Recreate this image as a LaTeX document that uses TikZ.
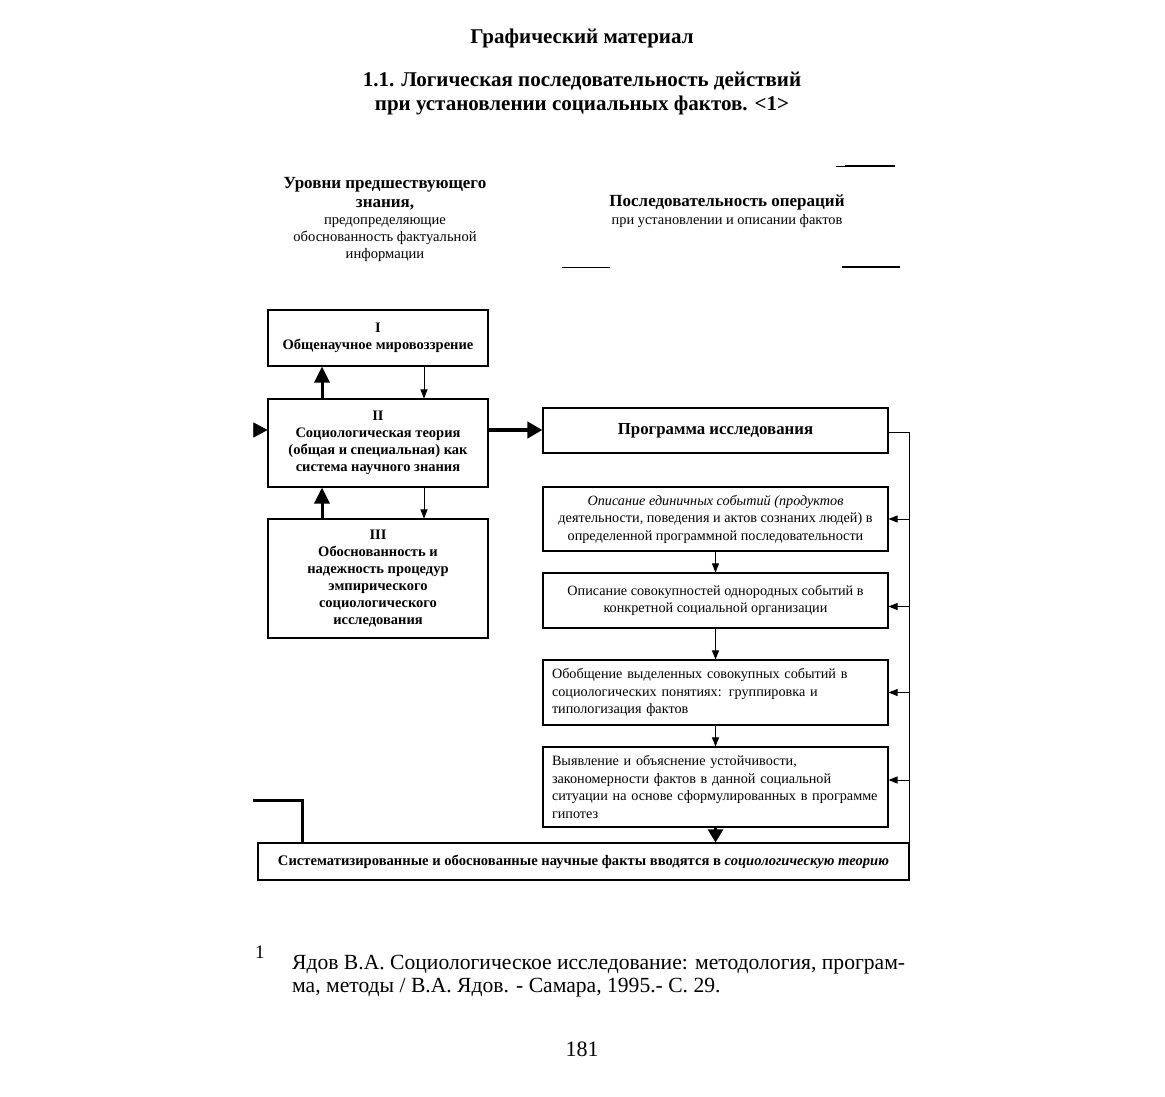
\documentclass[tikz,border=0pt]{standalone}
\usepackage{fontspec}
\setmainfont{Liberation Serif}
\usetikzlibrary{arrows.meta}
\begin{document}
\begin{tikzpicture}[x=1pt,y=-1pt,
  box/.style={draw,line width=1.1pt,inner sep=0pt,align=center},
  boxtxt/.style={font=\fontsize{14.5}{17}\selectfont\bfseries},
  optxt/.style={font=\fontsize{14.2}{17.5}\selectfont},
  thin/.style={line width=0.9pt,-{Triangle[length=9pt,width=7pt]}},
  thick/.style={line width=3pt,-{Triangle[length=16pt,width=15pt]}},
  hdr/.style={align=center,inner sep=0pt}
]
\useasboundingbox[fill=white] (0,0) rectangle (1165,1096);

% titles
\node[hdr,font=\fontsize{21}{24}\selectfont\bfseries] (t1) at (582,38) {Графический материал};
\node[hdr,font=\fontsize{21}{24}\selectfont\bfseries] (t2) at (582,94) {1.1. Логическая последовательность действий\\при установлении социальных фактов. <1>};

% headers
\node[hdr,font=\fontsize{17}{19}\selectfont\bfseries] (hl) at (385,193.5) {Уровни предшествующего\\знания,};
\node[hdr,font=\fontsize{14.6}{17}\selectfont] (hl2) at (385,240) {предопределяющие\\обоснованность фактуальной\\информации};
\node[hdr,font=\fontsize{17}{19}\selectfont\bfseries] (hr) at (727,202) {Последовательность операций};
\node[hdr,font=\fontsize{14.4}{16}\selectfont] (hr2) at (727,221) {при установлении и описании фактов};

% scan marks
\draw[line width=1.2pt] (845,166) -- (895,166);
\draw[line width=0.6pt] (836,166) -- (845,166);
\draw[line width=1pt] (562,267) -- (610,267);
\draw[line width=1.2pt] (842,267) -- (900,267);

% left column boxes
\node[box,boxtxt,minimum width=220,minimum height=56] (b1) at (378,338) {I\\Общенаучное мировоззрение};
\node[box,boxtxt,minimum width=220,minimum height=88] (b2) at (378,443) {II\\Социологическая теория\\(общая и специальная) как\\система научного знания};
\node[box,boxtxt,minimum width=220,minimum height=119] (b3) at (378,578.5) {III\\Обоснованность и\\надежность процедур\\эмпирического\\социологического\\исследования};

% right column boxes
\node[box,font=\fontsize{16.8}{18}\selectfont\bfseries,minimum width=345,minimum height=45] (pr) at (715.5,430.5) {Программа исследования};
\node[box,optxt,minimum width=345,minimum height=64] (ba) at (715.5,519) {\textit{Описание единичных событий (продуктов}\\деятельности, поведения и актов сознаних людей) в\\определенной программной последовательности};
\node[box,optxt,minimum width=345,minimum height=55] (bb) at (715.5,600.5) {Описание совокупностей однородных событий в\\конкретной социальной организации};
\node[box,optxt,minimum width=345,minimum height=65,align=left,text width=327pt,inner xsep=9pt] (bc) at (715.5,692.5) {Обобщение выделенных совокупных событий в\\социологических понятиях: группировка и\\типологизация фактов};
\node[box,optxt,minimum width=345,minimum height=80,align=left,text width=327pt,inner xsep=9pt] (bd) at (715.5,787) {Выявление и объяснение устойчивости,\\закономерности фактов в данной социальной\\ситуации на основе сформулированных в программе\\гипотез};

% bottom box
\node[box,font=\fontsize{14.6}{16}\selectfont\bfseries,minimum width=651,minimum height=37] (bot) at (583.5,861.5) {Систематизированные и обоснованные научные факты вводятся в \textit{социологическую теорию}};

% arrows left column
\draw[thick] ([xshift=-56pt]b2.north) -- ([xshift=-56pt]b1.south);
\draw[thin] ([xshift=46pt]b1.south) -- ([xshift=46pt]b2.north);
\draw[thick] ([xshift=-56pt]b3.north) -- ([xshift=-56pt]b2.south);
\draw[thin] ([xshift=46pt]b2.south) -- ([xshift=46pt]b3.north);

% input arrow to II
\coordinate (lin) at (253,430);
\draw[line width=0.5pt,-{Triangle[length=14pt,width=15pt]}] (lin) -- (b2.west |- lin);

% II -> programme
\draw[line width=4pt,-{Triangle[length=15pt,width=16pt]}] (b2.east |- lin) -- (pr.west |- lin);

% right column arrows
\draw[thin] (ba.south) -- (bb.north);
\draw[thin] (bb.south) -- (bc.north);
\draw[thin] (bc.south) -- (bd.north);
\draw[line width=2.5pt,-{Triangle[length=13pt,width=15pt]}] (bd.south) -- (bot.north -| bd.south);

% feedback line
\coordinate (fr) at (909,432);
\draw[line width=1pt] (pr.east |- fr) -- (fr) -- (fr |- bot.south);
\draw[thin] (fr |- ba.east) -- (ba.east);
\draw[thin] ([yshift=-6pt]bb.east -| fr) -- ([yshift=-6pt]bb.east);
\draw[thin] (fr |- bc.east) -- (bc.east);
\draw[thin] ([yshift=7pt]bd.east -| fr) -- ([yshift=7pt]bd.east);

% left return line
\coordinate (l1) at (253,800);
\coordinate (l2) at (302,800);
\draw[line width=3pt] (l1) -- (l2) -- (l2 |- bot.north);

% footnote
\node[anchor=north west,inner sep=0pt,font=\fontsize{19}{23}\selectfont] (fn1) at (255,946) {1};
\node[anchor=north west,inner sep=0pt,align=left,font=\fontsize{21.6}{23}\selectfont] (fn) at (292,955) {Ядов В.А. Социологическое исследование: методология, програм-\\ма, методы / В.А. Ядов. - Самара, 1995.- С. 29.};
\node[inner sep=0pt,font=\fontsize{22}{24}\selectfont] (pg) at (582,1049) {181};
\end{tikzpicture}
\end{document}
